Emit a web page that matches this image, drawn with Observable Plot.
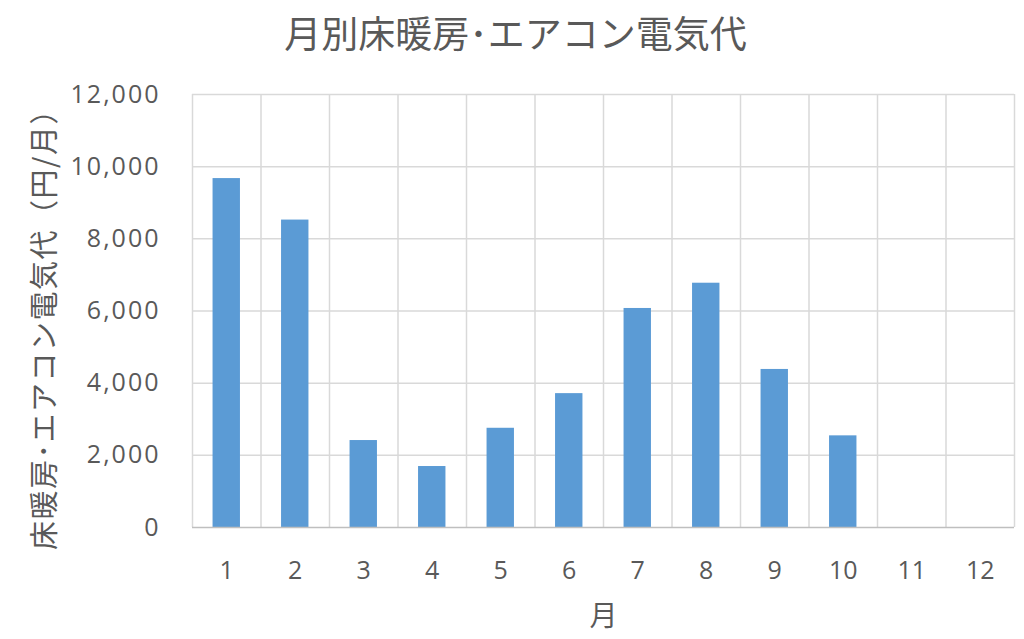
<!DOCTYPE html>
<html>
<head>
<meta charset="utf-8">
<script src="https://cdn.jsdelivr.net/npm/d3@7"></script>
<script src="https://cdn.jsdelivr.net/npm/@observablehq/plot@0.6"></script>
<style>
  html, body { margin: 0; padding: 0; background: #fff; }
  #chart svg { display: block; }
  #chart [aria-label="y-axis tick label"] text { letter-spacing: 2px; }
</style>
</head>
<body>
<div id="chart"></div>
<script>
const months = [1, 2, 3, 4, 5, 6, 7, 8, 9, 10, 11, 12];
const values = [9670, 8520, 2410, 1690, 2750, 3710, 6070, 6770, 4380, 2540, null, null];
const yTicks = [0, 2000, 4000, 6000, 8000, 10000, 12000];
const title = "月別床暖房･エアコン電気代";
const yLabel = "床暖房･エアコン電気代（円/月）";
const xLabel = "月";

const data = months.map((m, i) => ({month: m, value: values[i]})).filter(d => d.value != null);
const boundaries = [months[0] - 0.5, ...months.map(m => m + 0.5)];
const font = "'Noto Sans CJK JP', 'Noto Sans', sans-serif";
const digitFont = "'Open Sans', 'Noto Sans', sans-serif";
const textColor = "#595959";

const chart = Plot.plot({
  width: 1024,
  height: 639,
  marginLeft: 192,
  marginRight: 10,
  marginTop: 94,
  marginBottom: 112,
  style: {fontFamily: font, color: textColor, background: "#fff"},
  x: {type: "linear", domain: [0.5, 12.5]},
  y: {domain: [0, 12000]},
  marks: [
    Plot.ruleY(yTicks.slice(1), {stroke: "#d9d9d9", strokeWidth: 1.5}),
    Plot.ruleX(boundaries, {stroke: "#d9d9d9", strokeWidth: 1.5}),
    Plot.rectY(data, {x1: d => d.month - 0.2, x2: d => d.month + 0.2, y1: 0, y2: "value", fill: "#5b9bd5"}),
    Plot.ruleY([0], {stroke: "#bfbfbf", strokeWidth: 1.5}),
    Plot.axisX({ticks: months, tickSize: 0, tickPadding: 34, tickFormat: d => String(d), fontSize: 25, fontFamily: digitFont, label: null, fill: textColor}),
    Plot.axisY({ticks: yTicks, tickSize: 0, tickPadding: 32, tickFormat: d3.format(","), fontSize: 25, fontFamily: digitFont, label: null, fill: textColor}),
    Plot.text([title], {frameAnchor: "top", lineAnchor: "middle", textAnchor: "middle", dy: -58, dx: -88, fontSize: 37, fill: textColor, text: d => d}),
    Plot.text([yLabel], {frameAnchor: "left", lineAnchor: "middle", textAnchor: "middle", rotate: -90, dx: -147, dy: 11, fontSize: 29, fill: textColor, text: d => d}),
    Plot.text([xLabel], {frameAnchor: "bottom", lineAnchor: "middle", textAnchor: "middle", dy: 90, fontSize: 28, fill: textColor, text: d => d})
  ]
});
d3.select(chart).selectAll("text").filter(function() { return this.textContent === yLabel; }).style("letter-spacing", "1.5px");
document.getElementById("chart").appendChild(chart);
</script>
</body>
</html>
